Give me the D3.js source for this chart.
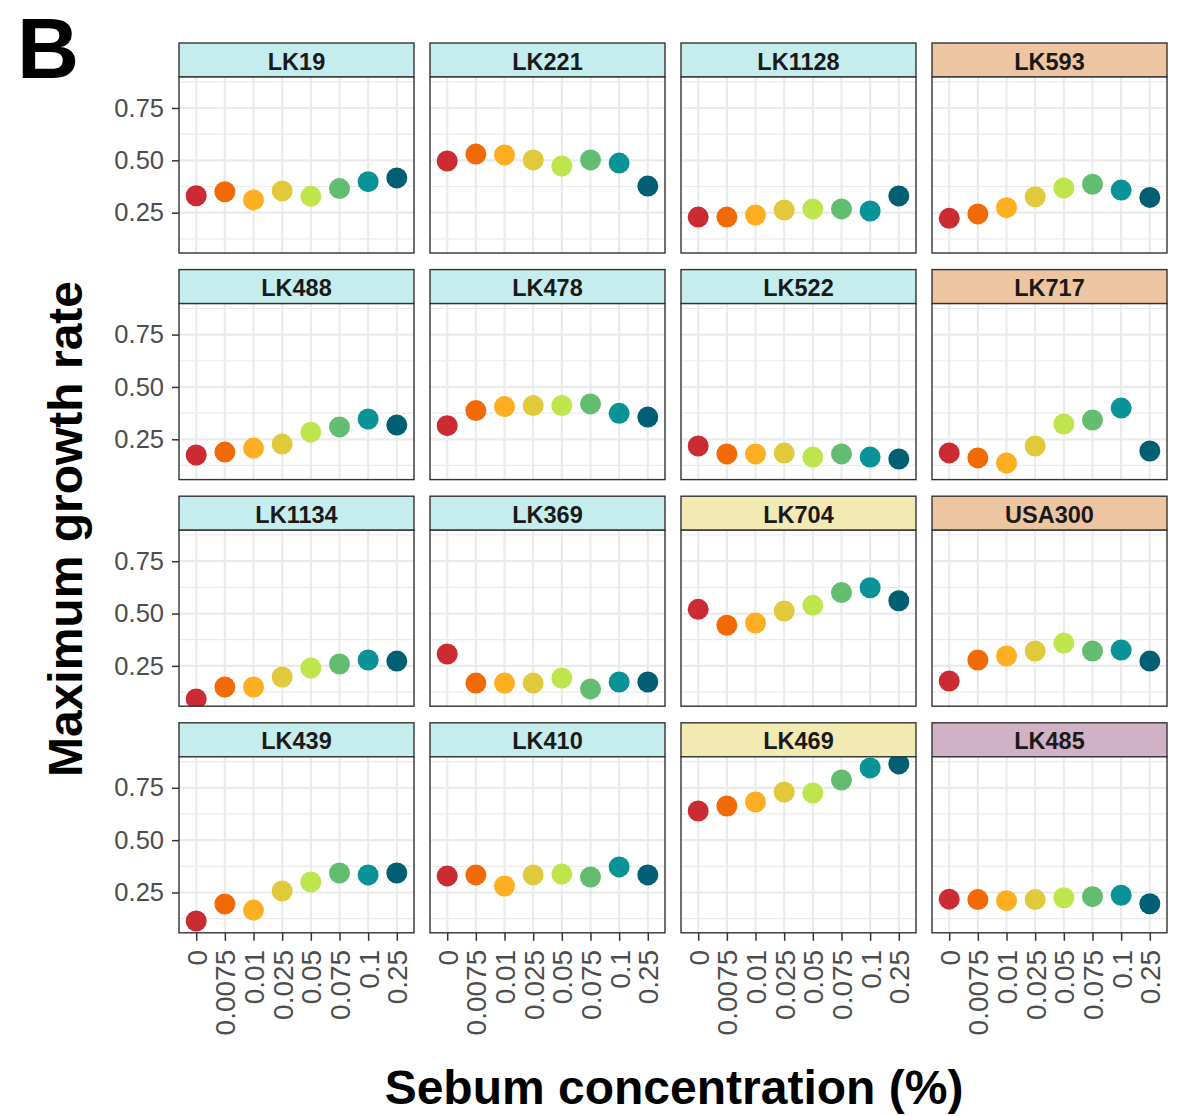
<!DOCTYPE html>
<html>
<head>
<meta charset="utf-8">
<script src="https://cdn.jsdelivr.net/npm/d3@7"></script>
<style>
  html, body { margin: 0; padding: 0; background: #fff; }
  svg { display: block; font-family: "Liberation Sans", Arial, Helvetica, sans-serif; }
</style>
</head>
<body>
<svg id="chart" width="1185" height="1116"></svg>
<script>
// ---- data ----
const concentrations = ["0", "0.0075", "0.01", "0.025", "0.05", "0.075", "0.1", "0.25"];
const pointColors = ["#CB2B32", "#F26A06", "#FDAE21", "#E0C93A", "#BFE54C", "#63BD71", "#0A9396", "#005F73"];
const yTicks = [0.25, 0.50, 0.75];
const yTickLabels = ["0.25", "0.50", "0.75"];

const strains = ["LK19", "LK221", "LK1128", "LK593",
                 "LK488", "LK478", "LK522", "LK717",
                 "LK1134", "LK369", "LK704", "USA300",
                 "LK439", "LK410", "LK469", "LK485"];
const stripGroup = ["a", "a", "a", "b",
                    "a", "a", "a", "b",
                    "a", "a", "c", "b",
                    "a", "a", "c", "d"];
const stripColors = { a: "#C5EDED", b: "#EEC5A1", c: "#F3E9B3", d: "#D1B1C5" };

const LK19   = [0.331, 0.350, 0.311, 0.354, 0.328, 0.365, 0.398, 0.416];
const LK221  = [0.497, 0.530, 0.526, 0.502, 0.473, 0.502, 0.487, 0.377];
const LK1128 = [0.229, 0.229, 0.239, 0.263, 0.268, 0.268, 0.258, 0.330];
const LK593  = [0.223, 0.244, 0.274, 0.326, 0.368, 0.386, 0.358, 0.323];
const LK488  = [0.175, 0.189, 0.208, 0.227, 0.284, 0.309, 0.347, 0.318];
const LK478  = [0.315, 0.387, 0.406, 0.411, 0.411, 0.419, 0.374, 0.356];
const LK522  = [0.218, 0.180, 0.180, 0.184, 0.165, 0.180, 0.165, 0.156];
const LK717  = [0.185, 0.161, 0.137, 0.218, 0.323, 0.342, 0.399, 0.194];
const LK1134 = [0.092, 0.149, 0.149, 0.197, 0.240, 0.259, 0.278, 0.273];
const LK369  = [0.307, 0.168, 0.168, 0.168, 0.192, 0.140, 0.173, 0.173];
const LK704  = [0.520, 0.444, 0.455, 0.512, 0.539, 0.600, 0.623, 0.561];
const USA300 = [0.178, 0.278, 0.297, 0.321, 0.359, 0.321, 0.326, 0.273];
const LK439  = [0.114, 0.195, 0.166, 0.257, 0.300, 0.343, 0.334, 0.343];
const LK410  = [0.329, 0.334, 0.281, 0.334, 0.338, 0.324, 0.372, 0.334];
const LK469  = [0.639, 0.663, 0.682, 0.730, 0.725, 0.787, 0.845, 0.864];
const LK485  = [0.218, 0.216, 0.211, 0.216, 0.225, 0.230, 0.237, 0.196];

const seriesValues = [LK19, LK221, LK1128, LK593, LK488, LK478, LK522, LK717,
                      LK1134, LK369, LK704, USA300, LK439, LK410, LK469, LK485];

// ---- layout ----
const svg = d3.select("#chart");
const colLeft = [179, 430, 681, 932];
const panelW = 235;
const stripTop0 = 43, rowStep = 226.6, stripH = 34, plotH = 176;
const font = '"Liberation Sans", Arial, Helvetica, sans-serif';

// scales shared across panels
const x = d3.scalePoint().domain(concentrations).range([0, panelW]).padding(0.6);
const y = d3.scaleLinear().domain([0.0575, 0.898]).range([plotH, 0]);
const minorTicks = [0.125, 0.375, 0.625, 0.875];

// panel label
svg.append("text").attr("x", 17).attr("y", 78)
  .attr("font-size", 86).attr("font-weight", "bold").attr("fill", "#000")
  .attr("font-family", font).text("B");

const defs = svg.append("defs");

strains.forEach((name, i) => {
  const col = i % 4, row = Math.floor(i / 4);
  const left = colLeft[col];
  const stripTop = stripTop0 + row * rowStep;
  const top = stripTop + stripH;

  // strip
  svg.append("rect").attr("x", left).attr("y", stripTop)
    .attr("width", panelW).attr("height", stripH)
    .attr("fill", stripColors[stripGroup[i]]).attr("stroke", "#333").attr("stroke-width", 1.4);
  svg.append("text").attr("x", left + panelW / 2).attr("y", stripTop + stripH / 2 + 1.5)
    .attr("text-anchor", "middle").attr("dominant-baseline", "central")
    .attr("font-size", 23.5).attr("font-weight", "bold").attr("fill", "#1A1A1A")
    .attr("font-family", font).text(name);

  const g = svg.append("g").attr("transform", `translate(${left},${top})`);
  g.append("rect").attr("width", panelW).attr("height", plotH).attr("fill", "#fff");

  // grid
  g.selectAll(".minor").data(minorTicks).join("line")
    .attr("x1", 0).attr("x2", panelW).attr("y1", d => y(d)).attr("y2", d => y(d))
    .attr("stroke", "#EBEBEB").attr("stroke-width", 1.2);
  g.selectAll(".majorY").data(yTicks).join("line")
    .attr("x1", 0).attr("x2", panelW).attr("y1", d => y(d)).attr("y2", d => y(d))
    .attr("stroke", "#EBEBEB").attr("stroke-width", 2.2);
  g.selectAll(".majorX").data(concentrations).join("line")
    .attr("x1", d => x(d)).attr("x2", d => x(d)).attr("y1", 0).attr("y2", plotH)
    .attr("stroke", "#EBEBEB").attr("stroke-width", 2.2);

  // points (clipped to panel)
  const cid = "clip" + i;
  defs.append("clipPath").attr("id", cid).append("rect")
    .attr("width", panelW).attr("height", plotH);
  const pts = g.append("g").attr("clip-path", `url(#${cid})`);
  pts.selectAll("circle").data(seriesValues[i]).join("circle")
    .attr("cx", (d, j) => x(concentrations[j]))
    .attr("cy", d => y(d))
    .attr("r", 10.5)
    .attr("fill", (d, j) => pointColors[j]);

  // border
  g.append("rect").attr("width", panelW).attr("height", plotH)
    .attr("fill", "none").attr("stroke", "#333").attr("stroke-width", 1.4);

  // y axis on first column
  if (col === 0) {
    const ya = g.append("g").call(d3.axisLeft(y).tickValues(yTicks)
      .tickFormat((d, k) => yTickLabels[k]).tickSize(7).tickPadding(8));
    ya.select(".domain").remove();
    ya.selectAll(".tick line").attr("stroke", "#333").attr("stroke-width", 1.5);
    ya.selectAll(".tick text").attr("font-size", 25.5).attr("fill", "#4D4D4D")
      .attr("font-family", font);
  }
  // x axis on last row
  if (row === 3) {
    const xa = g.append("g").attr("transform", `translate(0,${plotH})`)
      .call(d3.axisBottom(x).tickSize(8).tickPadding(8));
    xa.select(".domain").remove();
    xa.selectAll(".tick line").attr("stroke", "#333").attr("stroke-width", 1.5);
    xa.selectAll(".tick text")
      .attr("font-size", 28).attr("fill", "#4D4D4D").attr("font-family", font)
      .attr("transform", "rotate(-90)")
      .attr("x", -17).attr("y", 0).attr("dy", "0.36em")
      .attr("text-anchor", "end");
  }
});

// axis titles
svg.append("text")
  .attr("transform", "translate(82,529) rotate(-90)")
  .attr("text-anchor", "middle")
  .attr("font-size", 48).attr("font-weight", "bold").attr("fill", "#000")
  .attr("font-family", font).text("Maximum growth rate");

svg.append("text")
  .attr("x", 674).attr("y", 1104)
  .attr("text-anchor", "middle")
  .attr("font-size", 48).attr("font-weight", "bold").attr("fill", "#000")
  .attr("font-family", font).text("Sebum concentration (%)");
</script>
</body>
</html>
